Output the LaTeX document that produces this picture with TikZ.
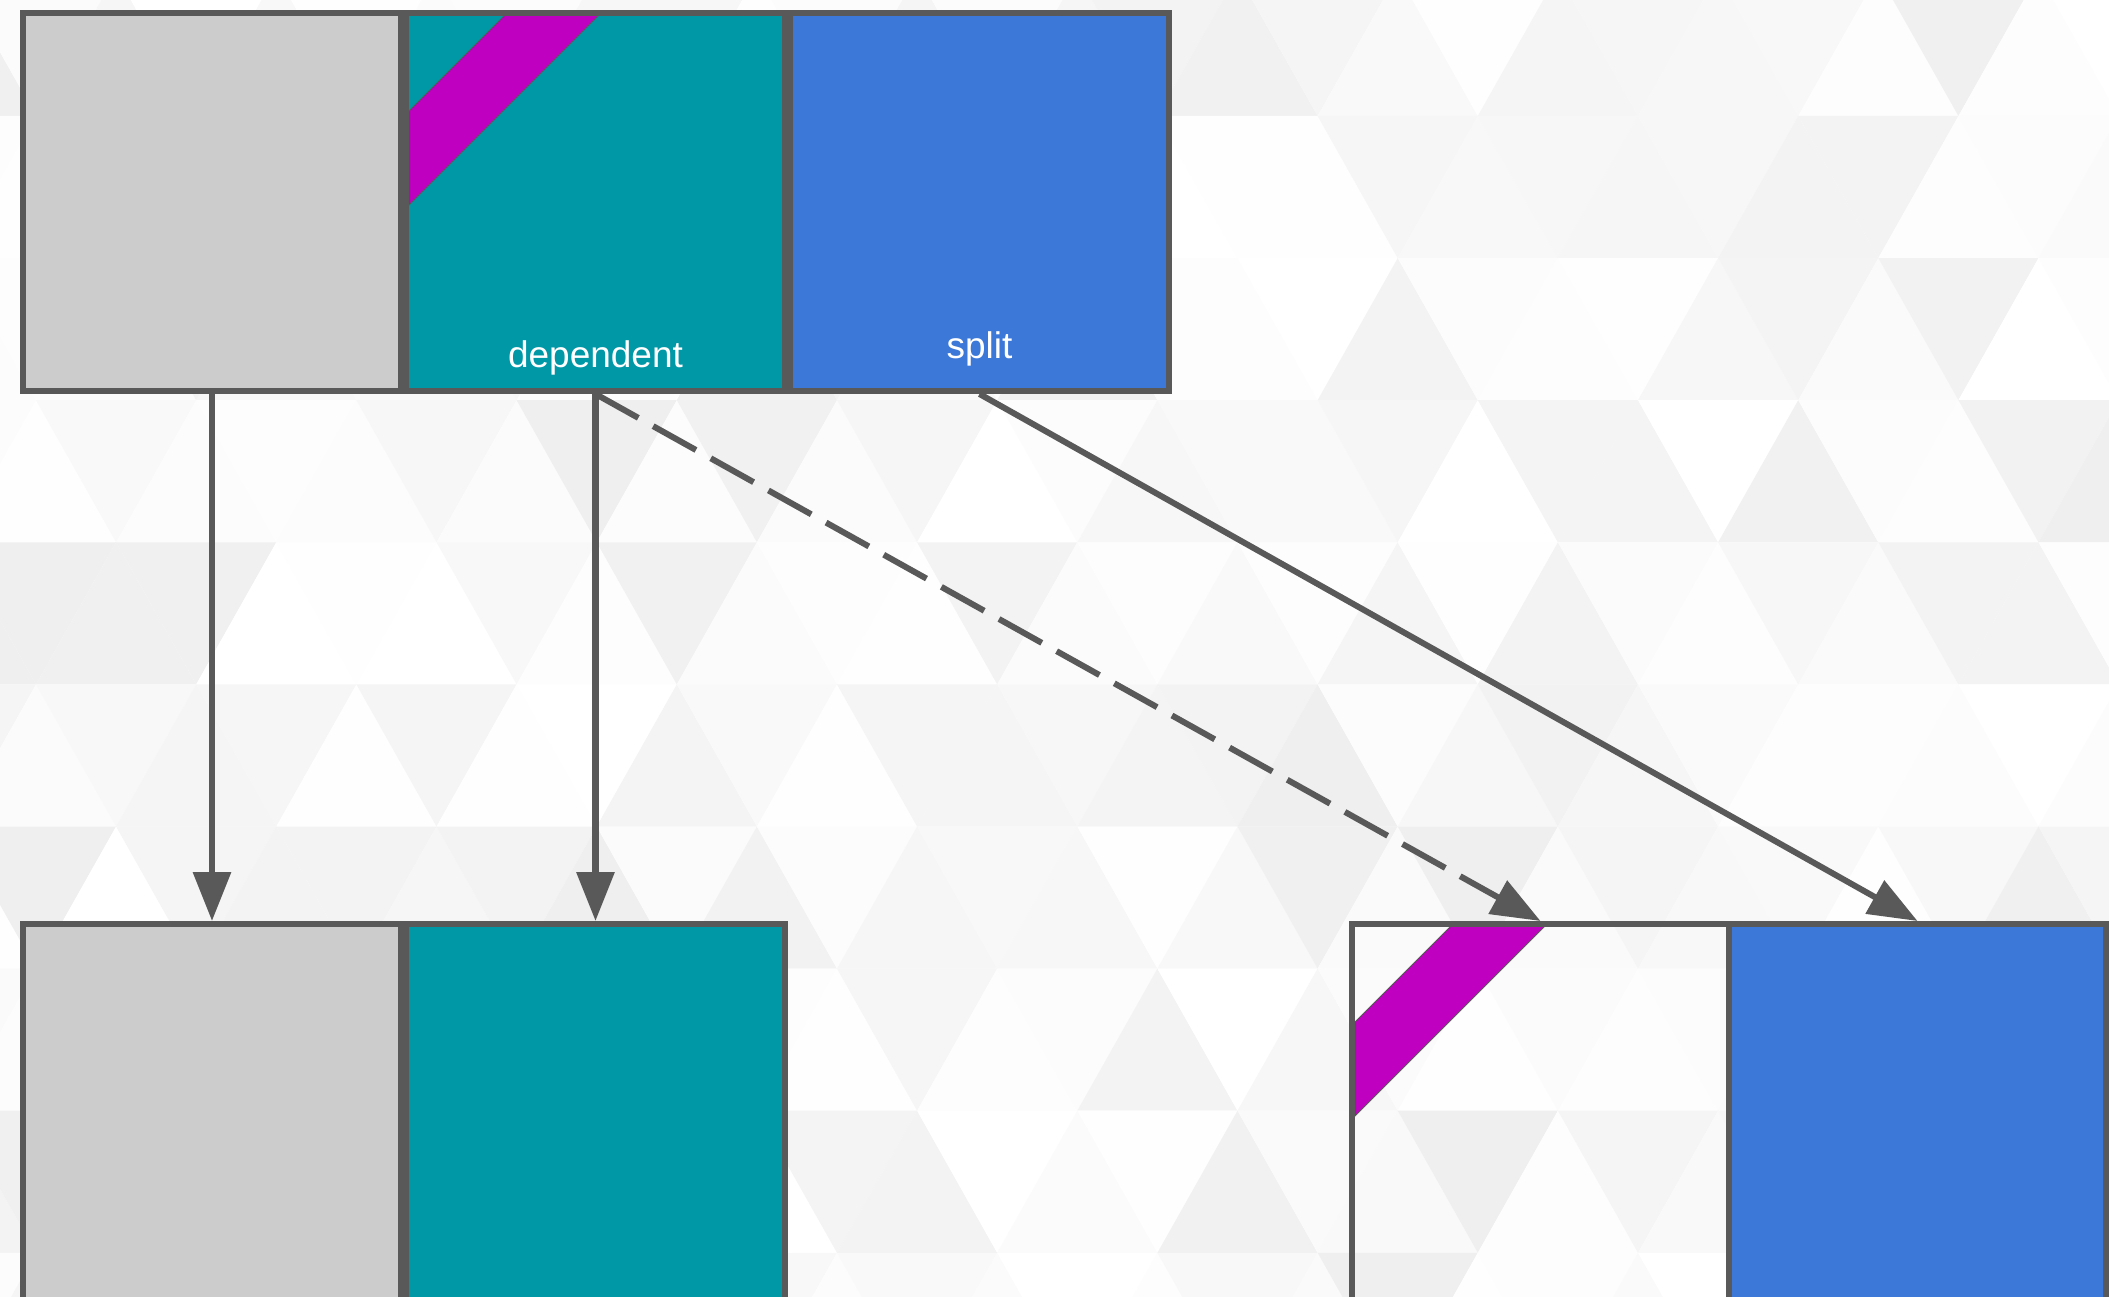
\documentclass[tikz,border=0pt]{standalone}
\usepackage{fontspec}
\setmainfont{Liberation Sans}
\usetikzlibrary{arrows.meta}
\definecolor{edgec}{RGB}{89,89,89}
\definecolor{greyc}{RGB}{204,204,204}
\definecolor{tealc}{RGB}{0,151,167}
\definecolor{bluec}{RGB}{60,120,216}
\definecolor{magc}{RGB}{192,0,192}
\tikzset{
  box/.style={draw=edgec, line width=6pt, minimum width=378pt, minimum height=378pt, inner sep=0pt},
  tallbox/.style={box, minimum height=420pt},
  stripe/.style={path picture={\filldraw[draw=edgec, fill=magc, line width=1pt]
      ([shift={(0,101)}]path picture bounding box.north west) --
      ([shift={(101,0)}]path picture bounding box.north west) --
      ([shift={(195,0)}]path picture bounding box.north west) --
      ([shift={(0,195)}]path picture bounding box.north west) -- cycle;}},
  lbl/.style={text=white, font=\fontsize{37pt}{44pt}\selectfont, inner sep=0pt, anchor=base},
  conn/.style={draw=edgec, line width=6.5pt, -{Triangle[length=49pt, width=37pt]}},
  dashconn/.style={conn, line width=6pt, dash pattern=on 49pt off 17pt}
}
\begin{document}
\begin{tikzpicture}[x=1pt, y=-1pt]
\useasboundingbox (0,0) rectangle (2109,1297);
\begin{scope}
\clip (0,0) rectangle (2109,1297);
\fill[white] (0,0) rectangle (2109,1297);
\pgfmathsetseed{11}
\foreach \k in {-1,...,8}{
  \pgfmathsetmacro\yT{116+142.1*\k}
  \pgfmathsetmacro\yB{\yT+142.1}
  \pgfmathsetmacro\tt{36+80.1*mod(\k+2,2)}
  \foreach \j in {-2,...,13}{
    \pgfmathsetmacro\xa{\tt+160.2*\j}
    \pgfmathsetmacro\sa{6.5*rnd^1.5}
    \pgfmathsetmacro\sb{6.5*rnd^1.5}
    \fill[black!\sa!white] (\xa,\yT) -- ++(160.2,0) -- ++(-80.1,142.1) -- cycle;
    \fill[black!\sb!white] (\xa+160.2,\yT) -- (\xa+80.1,\yB) -- (\xa+240.3,\yB) -- cycle;
  }
}

% boxes
\node[box, fill=greyc] (b1) at (212,202) {};
\node[box, fill=tealc, minimum width=379pt, stripe] (b2) at (595.5,202) {};
\node[box, fill=bluec, minimum width=379pt] (b3) at (979.5,202) {};
\node[tallbox, fill=greyc] (b4) at (212,1134) {};
\node[tallbox, fill=tealc, minimum width=379pt] (b5) at (595.5,1134) {};
\node[tallbox, minimum width=377pt, stripe] (b6) at (1540.5,1134) {};
\node[tallbox, fill=bluec, minimum width=377pt] (b7) at (1917.5,1134) {};
\end{scope}

\node[lbl] (tdep) at (595.5,367) {dependent};
\node[lbl] (tsplit) at (979.5,358) {split};

% connectors
\draw[conn] (b1.south) -- (b4.north);
\draw[conn] (b2.south) -- (b5.north);
\draw[dashconn] (b2.south) -- (b6.north);
\draw[conn, line width=6pt] (b3.south) -- (b7.north);
\end{tikzpicture}
\end{document}
